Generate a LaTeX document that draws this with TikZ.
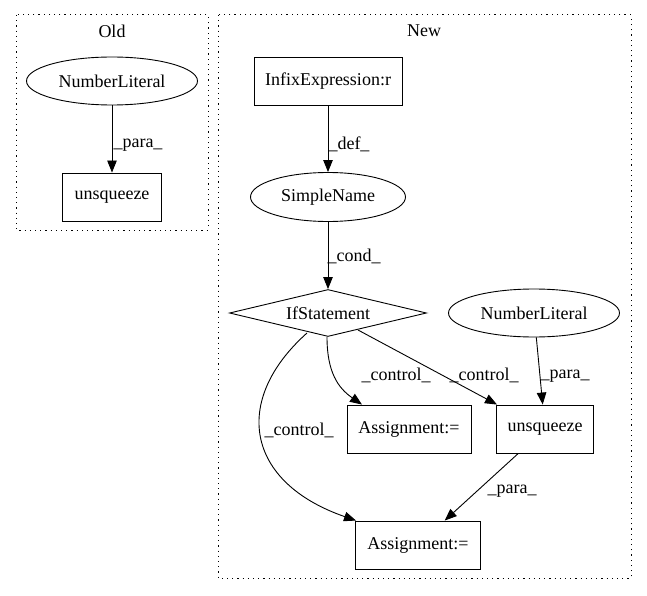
\documentclass[tikz,border=0pt]{standalone}
\usepackage{fontspec}
\setmainfont{Liberation Serif}
\usetikzlibrary{shapes.geometric,arrows.meta}
\begin{document}
\begin{tikzpicture}[x=1pt,y=-1pt,
  font=\fontsize{18}{21}\selectfont,
  every path/.style={line width=0.9pt},
  cluster/.style={draw, line width=1pt, dash pattern=on 1.2pt off 4pt},
  ell/.style={draw, ellipse, minimum width=171pt, minimum height=48pt, inner sep=0pt},
  box/.style={draw, rectangle, minimum height=48pt, inner sep=0pt},
  dia/.style={draw, diamond, aspect=4, minimum width=197pt, minimum height=47pt, inner sep=0pt},
  lab/.style={inner sep=0pt},
  arr/.style={-{Triangle[length=12pt,width=9.5pt]}}
]
\useasboundingbox (0,0) rectangle (647,596);
% clusters
\draw[cluster] (16,15) rectangle (208,230);
\node[lab] (oldt) at (112,31) {Old};
\draw[cluster] (218,15) rectangle (631,578);
\node[lab] (newt) at (424,31) {New};
% Old nodes
\node[ell] (nl1) at (112,81) {NumberLiteral};
\node[box, minimum width=99pt] (u1) at (112,197) {unsqueeze};
\draw[arr] (nl1) -- (u1);
\node[lab] (l1) at (138,145) {\_para\_};
% New nodes
\node[box, minimum width=148pt] (inf) at (328,81) {InfixExpression:r};
\node[ell, minimum width=155pt, minimum height=49pt] (sn) at (328,197) {SimpleName};
\node[dia] (if) at (328,313) {IfStatement};
\node[ell] (nl2) at (534,313) {NumberLiteral};
\node[box, minimum width=124pt] (a1) at (409,429) {Assignment:=};
\node[box, minimum width=97pt] (u2) at (545,429) {unsqueeze};
\node[box, minimum width=125pt] (a2) at (418,545) {Assignment:=};
% edges
\draw[arr] (inf) -- (sn);
\node[lab] (l2) at (349,144) {\_def\_};
\draw[arr] (sn) -- (if);
\node[lab] (l3) at (354,256) {\_cond\_};
\draw[arr] ([xshift=-1pt]if.south) .. controls (327,372) and (338,388) .. ([xshift=-47pt]a1.north);
\node[lab] (l4) at (396,375) {\_control\_};
\draw[arr] (358,330) -- ([xshift=-48pt]u2.north);
\node[lab] (l5) at (484,375) {\_control\_};
\draw[arr] (nl2) -- (u2);
\node[lab] (l6) at (565,376) {\_para\_};
\draw[arr] (307,333) .. controls (232,400) and (245,482) .. ([xshift=-62pt]a2.north);
\node[lab] (l7) at (299,430) {\_control\_};
\draw[arr] (u2) -- (a2);
\node[lab] (l8) at (512,491) {\_para\_};
\end{tikzpicture}
\end{document}
